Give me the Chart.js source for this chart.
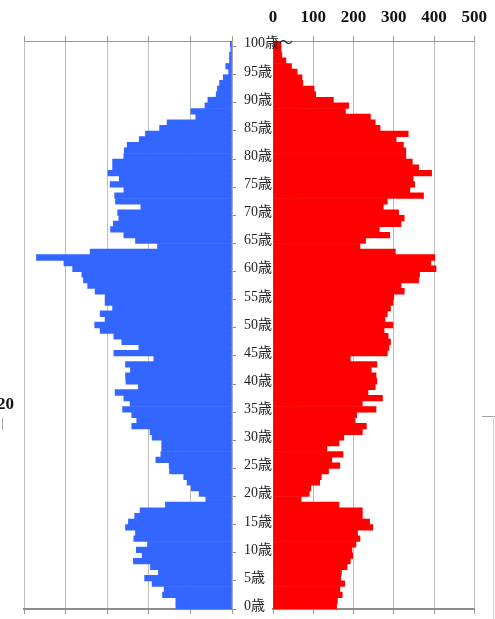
<!DOCTYPE html>
<html>
<head>
<meta charset="utf-8">
<script src="https://cdn.jsdelivr.net/npm/chart.js@4"></script>
<style>
  html, body { margin: 0; padding: 0; background: #fff; }
  #wrap { position: relative; width: 495px; height: 619px; overflow: hidden; }
  #female-wrap { position: absolute; left: 0; top: 0; width: 495px; height: 619px; }
  #male-wrap { position: absolute; left: 0; top: 0; width: 300px; height: 619px; z-index: 2; }
  .side-label { position: absolute; left: -3px; top: 394px; font: bold 17px "Liberation Serif", serif; color: #111; }
  .edge { position: absolute; background: #a0a0a0; }
</style>
</head>
<body>
<div id="wrap">
  <div id="female-wrap"><canvas id="female-chart" width="495" height="619"></canvas></div>
  <div id="male-wrap"><canvas id="male-chart" width="300" height="619"></canvas></div>
  <div class="side-label">20</div>
  <div class="edge" style="left:2px; top:418px; width:1px; height:12px;"></div>
  <div class="edge" style="left:482px; top:416px; width:13px; height:1px;"></div>
  <div class="edge" style="left:493px; top:416px; width:1px; height:203px; background:#d0d0d0;"></div>
</div>
<script>
// ages 0 .. 100
const ages = Array.from({ length: 101 }, (_, i) => (i === 100 ? "100歳～" : i + "歳"));

const maleValues = [
  135, 135, 167, 163, 192, 210, 177, 196, 237, 216,
  230, 203, 236, 232, 256, 249, 234, 221, 160, 63,
  79, 98, 108, 116, 150, 151, 183, 171, 169, 169,
  192, 197, 241, 229, 241, 263, 245, 260, 281, 225,
  255, 256, 244, 256, 188, 284, 224, 265, 284, 317,
  330, 305, 317, 287, 305, 305, 329, 347, 357, 361,
  383, 404, 470, 341, 179, 232, 260, 292, 285, 272,
  275, 219, 280, 282, 260, 293, 271, 298, 287, 287,
  260, 259, 252, 223, 208, 174, 156, 87, 99, 65,
  58, 38, 35, 30, 21, 8, 15, 6, 6, 3,
  4,
];

const femaleValues = [
  158, 160, 172, 166, 178, 168, 170, 184, 192, 198,
  196, 206, 216, 210, 248, 240, 222, 222, 164, 70,
  90, 94, 116, 120, 138, 166, 146, 174, 134, 164,
  176, 222, 232, 204, 208, 256, 222, 272, 236, 254,
  258, 256, 244, 258, 192, 284, 288, 292, 286, 276,
  298, 278, 284, 292, 298, 300, 326, 318, 362, 364,
  405, 392, 402, 304, 216, 230, 290, 264, 318, 326,
  312, 274, 284, 374, 340, 352, 348, 394, 362, 346,
  330, 330, 324, 306, 336, 266, 254, 242, 180, 188,
  150, 106, 102, 74, 72, 60, 46, 32, 22, 20,
  20,
];

const axisMax = 500;
const gridColor = "#bdbdbd";
const tickFont = { family: "'Liberation Serif', serif", size: 17, weight: "bold" };
const ageFont = { family: "'Liberation Serif', 'Noto Sans CJK JP', serif", size: 14 };

function xScales(reverse, showLabels) {
  return {
    x: {
      position: "top",
      min: 0,
      max: axisMax,
      reverse,
      ticks: { display: showLabels, stepSize: 100, color: "#111", font: tickFont, padding: 8 },
      grid: { color: gridColor, tickColor: "#999", tickLength: 5 },
      border: { color: "#999", width: 1 },
      afterFit: (axis) => { axis.height = 41; },
    },
    xb: {
      axis: "x",
      position: "bottom",
      min: 0,
      max: axisMax,
      reverse,
      ticks: { display: false, stepSize: 100 },
      grid: { drawOnChartArea: false, tickColor: "#999", tickLength: 5 },
      border: { color: "#8c8c8c", width: 2 },
      afterFit: (axis) => { axis.height = 10; },
    },
  };
}

function barDataset(values, color) {
  return {
    data: values,
    backgroundColor: color,
    borderWidth: 0,
    barPercentage: 1.0,
    categoryPercentage: 1.0,
    xAxisID: "x",
  };
}

new Chart(document.getElementById("male-chart"), {
  type: "bar",
  data: { labels: ages, datasets: [barDataset(maleValues, "#3366ff")] },
  options: {
    indexAxis: "y",
    responsive: false,
    animation: false,
    layout: { padding: { left: 24, right: 0, top: 0, bottom: 0 } },
    plugins: { legend: { display: false }, tooltip: { enabled: false } },
    scales: {
      ...xScales(true, false),
      y: {
        position: "right",
        reverse: true,
        ticks: {
          autoSkip: false,
          padding: 8,
          color: "#222",
          font: ageFont,
          callback: (v, i) => (i % 5 === 0 ? ages[i] : ""),
        },
        grid: {
          drawOnChartArea: false,
          tickLength: 4,
          tickColor: (ctx) => (ctx.index % 5 === 0 ? "#888" : "rgba(0,0,0,0)"),
        },
        border: { color: "#aaa" },
        afterFit: (axis) => {
          axis.width = 68;
          axis.paddingTop = 0;
          axis.paddingBottom = 0;
        },
      },
    },
  },
});

new Chart(document.getElementById("female-chart"), {
  type: "bar",
  data: { labels: ages, datasets: [barDataset(femaleValues, "#ff0000")] },
  options: {
    indexAxis: "y",
    responsive: false,
    animation: false,
    layout: { padding: { left: 273, right: 14, top: 0, bottom: 0 } },
    plugins: { legend: { display: false }, tooltip: { enabled: false } },
    scales: {
      ...xScales(false, true),
      y: { display: false, reverse: true },
    },
  },
});
</script>
</body>
</html>
